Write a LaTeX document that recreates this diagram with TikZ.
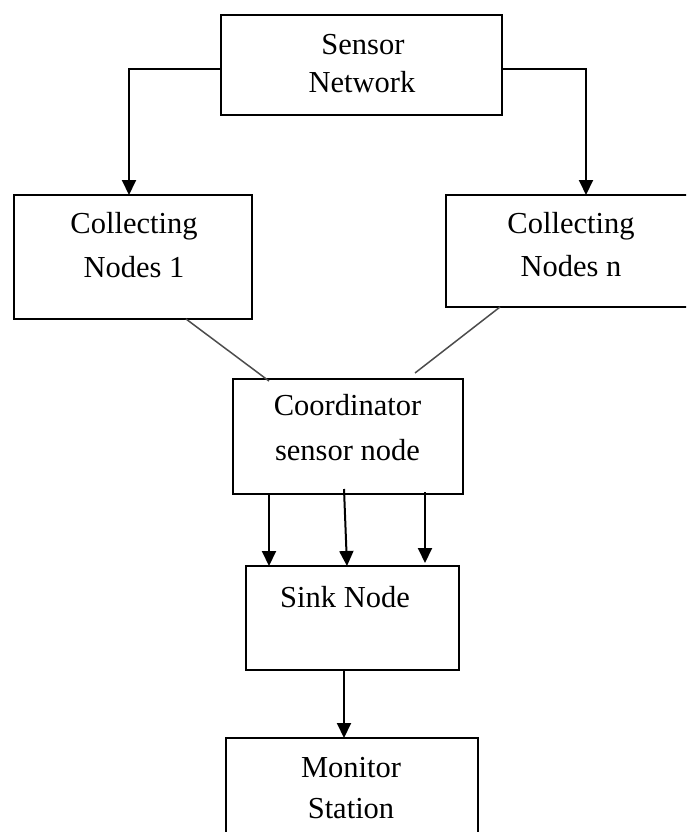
\documentclass[tikz,border=0pt]{standalone}
\usepackage{fontspec}
\setmainfont{Liberation Serif}
\usetikzlibrary{arrows.meta}
\begin{document}
\begin{tikzpicture}[x=1pt,y=-1pt,
  box/.style={draw=black,line width=2pt,rectangle,inner sep=0pt,outer sep=0pt},
  txt/.style={anchor=base,inner sep=0pt,font=\fontsize{30.5}{36}\selectfont},
  arr/.style={line width=2pt,-{Triangle[width=14pt,length=15pt]}},
  link/.style={line width=1.5pt,draw=black!70}]
\useasboundingbox (0,0) rectangle (686,832);
\clip (0,0) rectangle (686,832);

% boxes
\node[box,minimum width=281pt,minimum height=100pt] (sensor) at (361.5,65) {};
\node[box,minimum width=238pt,minimum height=124pt] (c1) at (133,257) {};
\node[box,minimum width=250pt,minimum height=112pt] (cn) at (571,251) {};
\node[box,minimum width=230pt,minimum height=115pt] (coord) at (348,436.5) {};
\node[box,minimum width=213pt,minimum height=104pt] (sink) at (352.5,618) {};
\node[box,minimum width=252pt,minimum height=122pt] (monitor) at (352,799) {};

% labels
\node[txt] (sensorA) at (363,55) {Sensor};
\node[txt] (sensorB) at (362,93) {Network};
\node[txt] (c1A) at (134,233) {Collecting};
\node[txt] (c1B) at (134,277) {Nodes 1};
\node[txt] (cnA) at (571,233) {Collecting};
\node[txt] (cnB) at (571,276) {Nodes n};
\node[txt] (coordA) at (347.5,415) {Coordinator};
\node[txt] (coordB) at (347.5,460) {sensor node};
\node[txt] (sinkA) at (345,607) {Sink Node};
\node[txt] (monA) at (351,777) {Monitor};
\node[txt] (monB) at (351,818) {Station};

% sensor network to the collecting nodes
\draw[arr] ([yshift=-4pt]sensor.west) -| ([xshift=-4pt]c1.north);
\draw[arr] ([yshift=-4pt]sensor.east) -| ([xshift=15pt]cn.north);

% collecting nodes to the coordinator
\draw[link] ([xshift=53pt]c1.south) -- ([xshift=-79pt,yshift=-2pt]coord.north);
\draw[link] ([xshift=-71pt]cn.south) -- ([xshift=67pt,yshift=6pt]coord.north);

% coordinator to the sink
\draw[arr] ([xshift=-79pt]coord.south) -- ([xshift=-79pt]coord.south |- sink.north);
\draw[arr] ([xshift=-4pt,yshift=5pt]coord.south) -- ([xshift=-5.5pt]sink.north);
\draw[arr,shorten >=3pt] ([xshift=77pt,yshift=2pt]coord.south) -- ([xshift=77pt]coord.south |- sink.north);

% sink to the monitor station
\draw[arr] ([xshift=-8.5pt]sink.south) -- ([xshift=-8.5pt]sink.south |- monitor.north);
\end{tikzpicture}
\end{document}
